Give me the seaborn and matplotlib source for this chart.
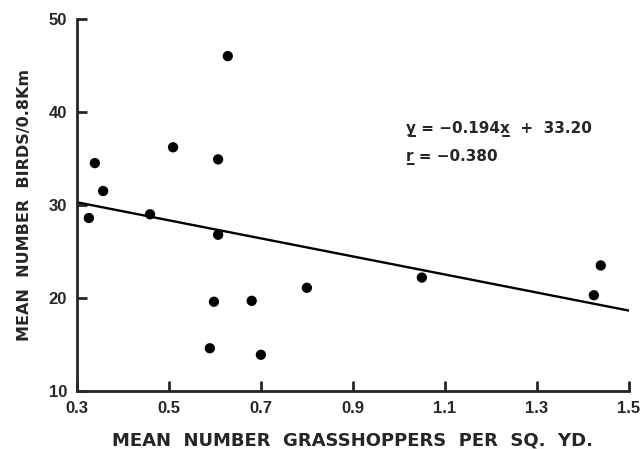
import numpy as np
import pandas as pd
import seaborn as sns
import matplotlib.pyplot as plt

# data
grasshoppers = [0.326, 0.339, 0.357, 0.459, 0.509, 0.607, 0.628, 0.607,
                0.598, 0.680, 0.589, 0.700, 0.800, 1.050, 1.424, 1.439]
birds = [28.6, 34.5, 31.5, 29.0, 36.2, 34.9, 46.0, 26.8,
         19.6, 19.7, 14.6, 13.9, 21.1, 22.2, 20.3, 23.5]

# regression as printed (x in the equation is per 50 sq. yd.)
slope = -0.194
intercept = 33.20
r_value = -0.380
x_scale = 50

x_ticks = [0.3, 0.5, 0.7, 0.9, 1.1, 1.3, 1.5]
y_ticks = [10, 20, 30, 40, 50]

sns.set_style("ticks")
plt.rcParams['font.family'] = ['Liberation Sans', 'DejaVu Sans']
plt.rcParams['font.weight'] = 'bold'

df = pd.DataFrame({'x': grasshoppers, 'y': birds})
line_x = np.array([x_ticks[0], x_ticks[-1]])
line_df = pd.DataFrame({'x': line_x, 'y': intercept + slope * x_scale * line_x})

fig = plt.figure(figsize=(6.41, 4.49), dpi=100)
ax = fig.add_axes([0.120, 0.129, 0.861, 0.829])

sns.lineplot(data=line_df, x='x', y='y', color='black', linewidth=1.7, ax=ax)
sns.scatterplot(data=df, x='x', y='y', color='black', s=55, edgecolor='none', ax=ax)

ax.set_xlim(x_ticks[0], x_ticks[-1])
ax.set_ylim(y_ticks[0], y_ticks[-1])
ax.set_xticks(x_ticks)
ax.set_xticklabels([f"{t:.1f}" for t in x_ticks])
ax.set_yticks(y_ticks)
ax.tick_params(direction='in', length=7, width=2, labelsize=12, pad=7)
for lab in ax.get_xticklabels() + ax.get_yticklabels():
    lab.set_fontweight('bold')

for side in ['top', 'right']:
    ax.spines[side].set_visible(False)
for side in ['left', 'bottom']:
    ax.spines[side].set_linewidth(2)

ax.set_xlabel("MEAN  NUMBER  GRASSHOPPERS  PER  SQ.  YD.", fontsize=13,
              fontweight='bold', labelpad=11, family=['DejaVu Sans'])
ax.set_ylabel("MEAN  NUMBER  BIRDS/0.8Km", fontsize=11.5, fontweight='bold',
              labelpad=12, family=['DejaVu Sans'])

u = '\u0332'
ax.text(1.015, 37.7, f"y{u} = \u22120.194x{u}  +  33.20", fontsize=11,
        fontweight='bold', family=['DejaVu Sans'])
ax.text(1.015, 34.7, f"r{u} = \u2212{abs(r_value):.3f}", fontsize=11,
        fontweight='bold', family=['DejaVu Sans'])

fig.savefig('out.png', dpi=100)
